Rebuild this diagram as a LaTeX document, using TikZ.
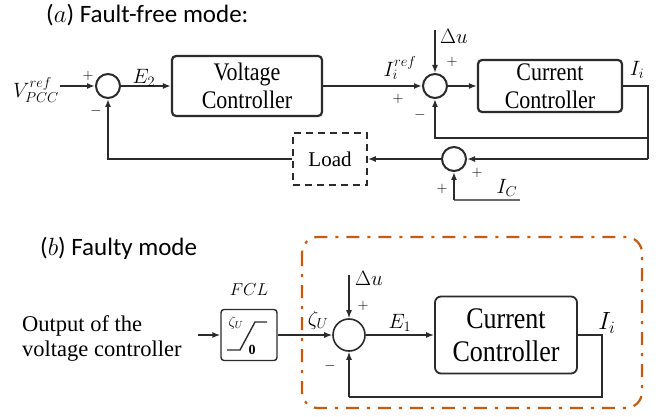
\documentclass[tikz,border=0pt]{standalone}
\usepackage{fontspec}
\setmainfont{Liberation Serif}
\newfontfamily\carl{Carlito}
\usetikzlibrary{arrows.meta}
\definecolor{ln}{HTML}{2B2B2B}
\definecolor{org}{HTML}{C55A11}
\newcommand{\vst}[1]{\scalebox{1}[1.15]{#1}}
\begin{document}
\begin{tikzpicture}[x=1pt,y=-1pt,
  lineA/.style={draw=ln, line width=2.4pt},
  arrA/.style={lineA, -{Latex[length=8pt,width=6pt]}},
  thinA/.style={draw=ln, line width=1.6pt, -{Latex[length=8pt,width=6pt]}},
  lineB/.style={draw=ln, line width=1.4pt},
  arrB/.style={lineB, -{Latex[length=8pt,width=6pt]}},
  sumA/.style={circle, draw=ln, line width=2pt, minimum size=24pt, inner sep=0pt},
  sumB/.style={circle, draw=ln, line width=1.6pt, minimum size=32pt, inner sep=0pt},
  blockA/.style={draw=ln, line width=2.2pt, rounded corners=4pt, inner sep=0pt, align=center, font=\fontsize{22}{28}\selectfont},
  blockB/.style={draw=ln, line width=1.8pt, rounded corners=6pt, inner sep=0pt, align=center, font=\fontsize{26}{33}\selectfont},
  lbl/.style={inner sep=0pt, font=\fontsize{21}{21}\selectfont},
  sgn/.style={inner sep=0pt, font=\fontsize{15}{15}\selectfont},
  title/.style={inner sep=0pt, anchor=west, font=\carl\fontsize{25}{25}\selectfont}
]
\useasboundingbox (0,0) rectangle (670,417);

% ---------- (a) ----------
\node[title] (ta) at (46,15) {($a$) Fault-free mode:};

\node[sumA] (s1) at (108,86) {};
\node[blockA, minimum width=150pt, minimum height=60pt] (vc) at (247,86) {\vst{Voltage}\\\vst{Controller}};
\node[sumA] (s2) at (435,86) {};
\node[blockA, minimum width=144pt, minimum height=52pt] (cc) at (550,86) {\vst{Current}\\\vst{Controller}};
\node[sumA] (s3) at (454,159) {};
\node[draw=ln, dash pattern=on 7pt off 5pt, line width=1.5pt, minimum width=74pt, minimum height=52pt, inner sep=0pt, font=\fontsize{21}{21}\selectfont] (load) at (330,159) {Load};

\coordinate (vin) at (60,86);
\coordinate (dua) at (435,30);
\coordinate (o1) at (648,86);
\coordinate (fb) at (648,138);
\coordinate (o2) at (648,159);
\coordinate (icA) at (520,200);
\coordinate (icB) at (454,200);

\node[lbl, anchor=east, font=\fontsize{22}{22}\selectfont] (vref) at (59,90) {$V_{PCC}^{ref}$};
\draw[arrA] (vin) -- (s1.west);
\draw[arrA] (s1.east) -- (vc.west);
\draw[arrA] (vc.east) -- (s2.west);
\draw[arrA] (s2.east) -- (cc.west);
\draw[thinA] (dua) -- (s2.north);
\draw[lineA] (cc.east) -- (o1) -- (o2);
\draw[arrA] (fb) -| (s2.south);
\draw[arrA] (o2) -- (s3.east);
\draw[arrA] (s3.west) -- (load.east);
\draw[arrA] (load.west) -| (s1.south);
\draw[draw=ln!70, line width=1.4pt] (icA) -- (icB);
\draw[arrA] (icB) -- (s3.south);

\node[sgn] (p1) at (88,76) {$+$};
\node[sgn] (m1) at (96,111) {$-$};
\node[lbl, font=\fontsize{22}{22}\selectfont] (e2) at (144,78) {$E_2$};
\node[lbl] (iref) at (400,68) {$I_i^{ref}$};
\node[sgn] (p2) at (398,99) {$+$};
\node[sgn] (m2) at (420,115) {$-$};
\node[sgn] (p3) at (452,62) {$+$};
\node[lbl] (dul) at (454,36) {$\Delta u$};
\node[lbl] (ii) at (637,70) {$I_i$};
\node[sgn] (p4) at (477,173) {$+$};
\node[sgn] (p5) at (442,189) {$+$};
\node[lbl] (icl) at (507,188) {$I_C$};

% ---------- (b) ----------
\node[title] (tb) at (40,248) {($b$) Faulty mode};

\draw[org, line width=2.2pt, rounded corners=16pt, dash pattern=on 13pt off 8pt on 3pt off 8pt] (302,237) rectangle (642,408);

\node[inner sep=0pt, anchor=west, align=left, font=\fontsize{22.5}{25}\selectfont] (outtxt) at (22,339) {Output of the\\voltage controller};
\node[draw=ln, line width=1.4pt, rounded corners=3pt, minimum width=56pt, minimum height=51pt, inner sep=0pt] (fcl) at (249,335) {};
\node[inner sep=0pt, font=\fontsize{18}{18}\selectfont] (fcll) at (249,290) {$FCL$};
\node[inner sep=0pt, font=\fontsize{14}{14}\selectfont] (zin) at (236,323) {$\zeta_U$};
\node[inner sep=0pt, font=\bfseries\fontsize{14}{14}\selectfont] (zero) at (252,350) {0};
\draw[ln, line width=1.4pt] (227,350) -- (240,350) -- (255,322) -- (267,322);

\node[sumB] (s4) at (349,335) {};
\node[blockB, minimum width=142pt, minimum height=77pt] (cc2) at (506,335) {\vst{Current}\\\vst{Controller}};

\coordinate (fin) at (198,335);
\coordinate (dub) at (349,275);
\coordinate (ob1) at (602,335);
\coordinate (ob2) at (602,397);
\coordinate (ob3) at (349,397);

\draw[arrB] (fin) -- (fcl.west);
\draw[arrB] (fcl.east) -- (s4.west);
\draw[arrB] (dub) -- (s4.north);
\draw[arrB] (s4.east) -- (cc2.west);
\draw[lineB] (cc2.east) -- (ob1) -- (ob2) -- (ob3);
\draw[arrB] (ob3) -- (s4.south);

\node[inner sep=0pt, font=\fontsize{22}{22}\selectfont] (zu) at (318,320) {$\zeta_U$};
\node[lbl] (dubl) at (369,278) {$\Delta u$};
\node[sgn] (p6) at (363,306) {$+$};
\node[sgn] (m3) at (330,366) {$-$};
\node[lbl] (e1) at (400,323) {$E_1$};
\node[inner sep=0pt, font=\fontsize{27}{27}\selectfont] (ii2) at (607,323) {$I_i$};
\end{tikzpicture}
\end{document}
